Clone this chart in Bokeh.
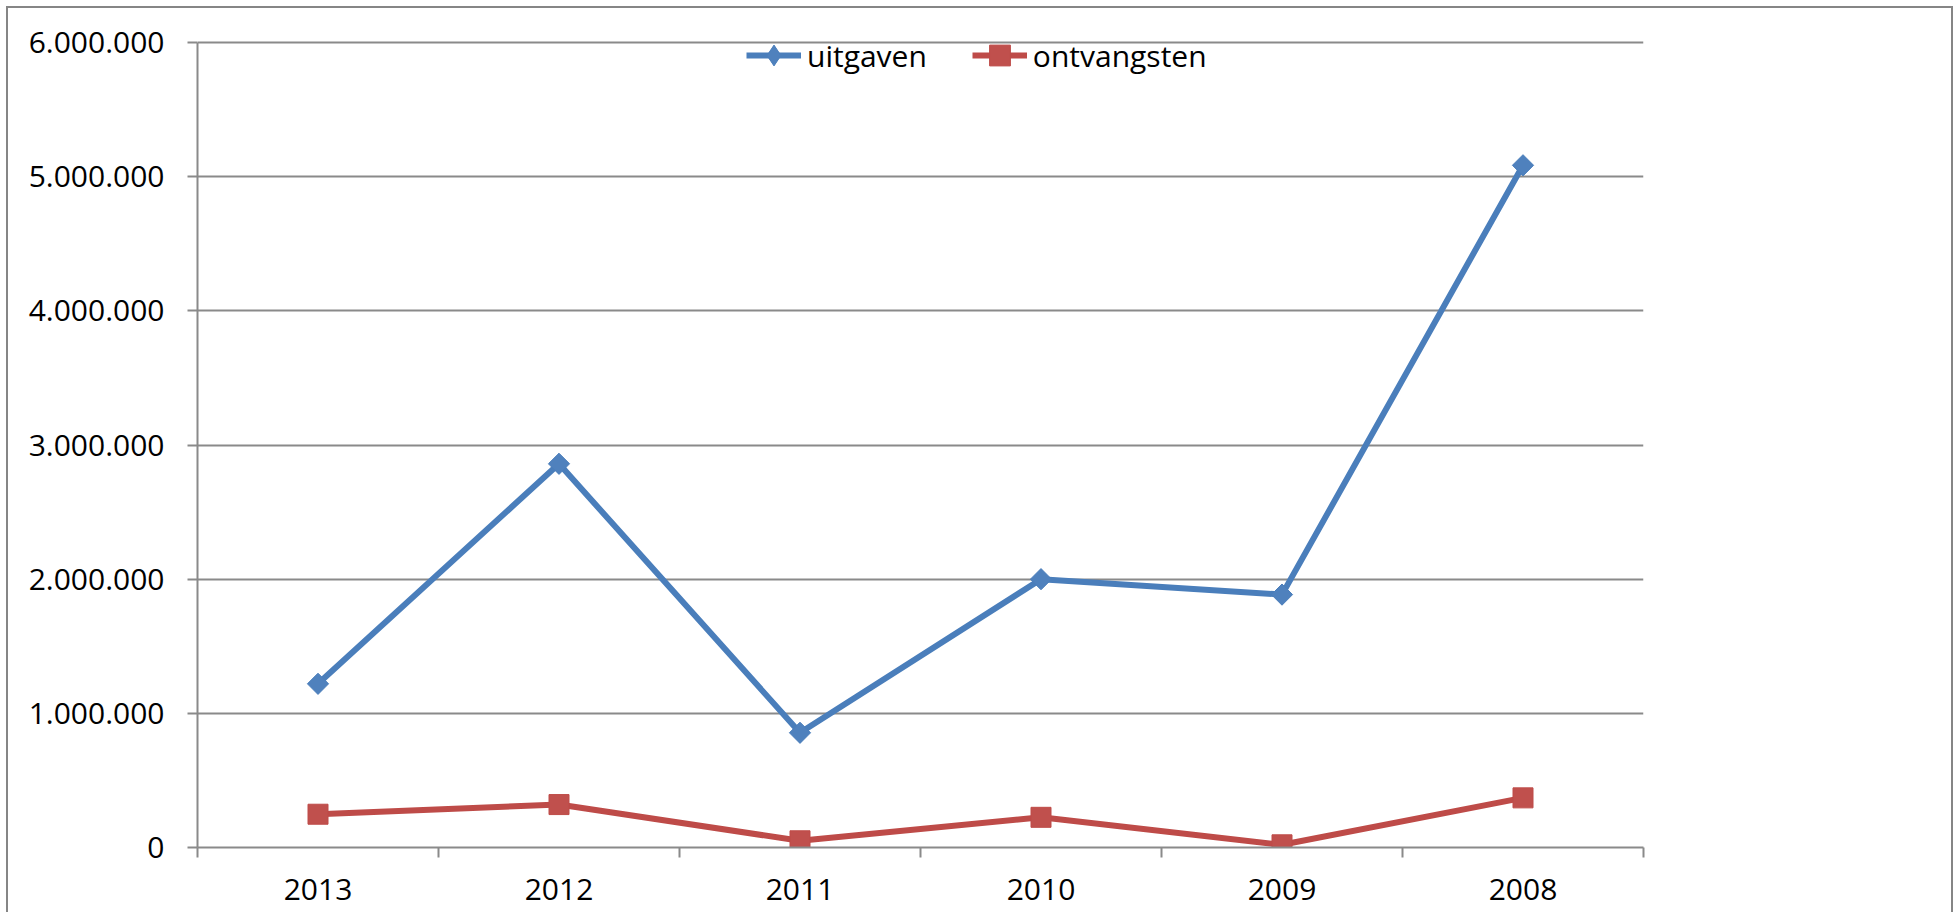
from bokeh.plotting import figure
from bokeh.models import FixedTicker, Legend, LegendItem, Range1d, ColumnDataSource
from bokeh.embed import file_html
from bokeh.resources import INLINE
import numpy as np

# ---- data ----
years = ["2013", "2012", "2011", "2010", "2009", "2008"]
uitgaven = [1220000, 2860000, 855000, 2000000, 1885000, 5085000]
ontvangsten = [248000, 320000, 50000, 225000, 20000, 370000]
y_ticks = [0, 1000000, 2000000, 3000000, 4000000, 5000000, 6000000]
y_tick_labels = ["0", "1.000.000", "2.000.000", "3.000.000", "4.000.000", "5.000.000", "6.000.000"]

x_pos = [i + 0.5 for i in range(len(years))]
boundaries = list(range(len(years) + 1))

GRID = "#8a8a8a"
FONT = "Open Sans"
BLUE_L, BLUE_F = "#4A7EBB", "#4F81BD"
RED_L, RED_F = "#BE4B48", "#C0504D"

src = ColumnDataSource(dict(x=x_pos, u=uitgaven, o=ontvangsten))

p = figure(width=1947, height=906, output_backend="svg", toolbar_location=None,
           x_range=Range1d(0, len(years)), y_range=Range1d(0, 6194000),
           min_border_left=189, min_border_right=312, min_border_top=8, min_border_bottom=67,
           background_fill_color="white", border_fill_color="white",
           styles={"margin-left": "6px", "margin-top": "6px",
                   "border-top": "2px solid #868686", "border-left": "2px solid #868686",
                   "border-right": "2px solid #868686"})
p.outline_line_color = None

l1 = p.line("x", "u", source=src, line_color=BLUE_L, line_width=6)
# narrow diamond used as the legend swatch; it sits fully under the larger markers below
s1_leg = p.scatter("x", "u", source=src, marker="diamond", size=12,
                   fill_color=BLUE_F, line_color=BLUE_L, line_width=1)
s1 = p.scatter("x", "u", source=src, marker="square", angle=np.pi / 4, size=15,
               fill_color=BLUE_F, line_color=BLUE_L, line_width=1)
l2 = p.line("x", "o", source=src, line_color=RED_L, line_width=6)
s2 = p.scatter("x", "o", source=src, marker="square", size=20,
               fill_color=RED_F, line_color=RED_L, line_width=1)

# x axis
xa = p.xaxis[0]
xa.ticker = FixedTicker(ticks=x_pos, minor_ticks=boundaries)
xa.major_label_overrides = {x: y for x, y in zip(x_pos, years)}
xa.major_tick_out = 0
xa.major_tick_in = 0
xa.minor_tick_out = 10
xa.minor_tick_in = 0
xa.minor_tick_line_color = GRID
xa.minor_tick_line_width = 2
xa.axis_line_color = GRID
xa.axis_line_width = 2
xa.major_label_standoff = 21
xa.major_label_text_font = FONT
xa.major_label_text_font_size = "30px"
xa.major_label_text_color = "black"

# y axis
ya = p.yaxis[0]
ya.ticker = FixedTicker(ticks=y_ticks, minor_ticks=[])
ya.bounds = (y_ticks[0], y_ticks[-1])
ya.major_label_overrides = {t: s for t, s in zip(y_ticks, y_tick_labels)}
ya.major_tick_out = 10
ya.major_tick_in = 0
ya.minor_tick_line_color = None
ya.major_tick_line_color = GRID
ya.major_tick_line_width = 2
ya.axis_line_color = GRID
ya.axis_line_width = 2
ya.major_label_standoff = 23
ya.major_label_text_font = FONT
ya.major_label_text_font_size = "30px"
ya.major_label_text_color = "black"

p.xgrid.visible = False
p.ygrid.ticker = FixedTicker(ticks=y_ticks, minor_ticks=[])
p.ygrid.grid_line_color = GRID
p.ygrid.grid_line_width = 2

legend = Legend(items=[LegendItem(label="uitgaven", renderers=[l1, s1_leg]),
                       LegendItem(label="ontvangsten", renderers=[l2, s2])],
                orientation="horizontal", location=(549, 766),
                glyph_width=55, glyph_height=52, label_standoff=6, spacing=45,
                padding=0, margin=0, border_line_color=None, background_fill_alpha=0,
                label_text_font=FONT, label_text_font_size="30px", label_text_color="black")
p.add_layout(legend, "center")

open("out.html", "w").write(file_html(p, INLINE))
